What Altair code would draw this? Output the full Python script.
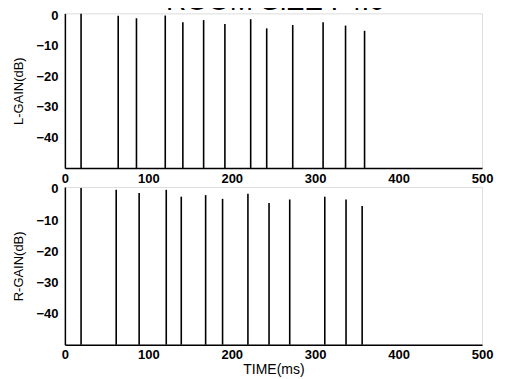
import altair as alt
import pandas as pd

TITLE = "ROOM SIZE : 4.0"

# Left channel reflections: time (ms) and gain (dB)
L_TIME = [19.4, 63.9, 85.8, 120.3, 141.4, 166.3, 191.8, 222.7, 241.9, 273.1, 309.5, 336.4, 359.2]
L_GAIN = [0.5, -0.2, -1.0, -0.1, -2.3, -1.6, -2.9, -1.3, -4.3, -3.2, -2.3, -3.4, -5.1]

# Right channel reflections
R_TIME = [19.4, 61.5, 89.0, 121.5, 139.5, 168.7, 189.0, 219.4, 244.7, 269.5, 311.5, 337.0, 356.3]
R_GAIN = [0.3, -0.3, -1.3, -0.3, -2.5, -2.0, -3.2, -1.6, -4.5, -3.4, -2.5, -3.4, -5.5]

X_TICKS = [0, 100, 200, 300, 400, 500]
Y_TICKS = [-40, -30, -20, -10, 0]

LABEL_FONT = "Liberation Sans Narrow, Liberation Sans, Arial, sans-serif"
W = 418


def panel(times, gains, ytitle, height, xtitle=None, with_title=False):
    df = pd.DataFrame({"time": times, "gain": gains})
    xaxis = dict(values=X_TICKS, grid=False, ticks=False, labelPadding=4,
                 labelFont=LABEL_FONT, labelFontSize=13, labelFontWeight="bold",
                 labelColor="black", domainColor="black", domainWidth=1.5,
                 labelFlush=False)
    if xtitle:
        xaxis.update(title=xtitle, titleFont=LABEL_FONT, titleFontSize=14,
                     titleFontWeight="normal", titleColor="black", titlePadding=1)
    else:
        xaxis.update(title=None)
    rules = alt.Chart(df).mark_rule(color="black", strokeWidth=1.6).encode(
        x=alt.X("time:Q", scale=alt.Scale(domain=[0, 500], nice=False),
                axis=alt.Axis(**xaxis)),
        y=alt.Y("gain:Q", scale=alt.Scale(domain=[-50, 0.6], nice=False, zero=False),
                axis=alt.Axis(values=Y_TICKS, grid=False, ticks=False, labelPadding=7,
                              labelFont=LABEL_FONT, labelFontSize=13,
                              labelFontWeight="bold", labelColor="black",
                              domainColor="black", domainWidth=1.5,
                              title=ytitle, titleFont=LABEL_FONT, titleFontSize=13,
                              titleFontWeight="normal", titleColor="black",
                              titleX=-46, titleBaseline="middle")),
        y2=alt.datum(-50),
    )
    layers = [rules]
    if with_title:
        tdf = pd.DataFrame({"t": [TITLE]})
        ttl = alt.Chart(tdf).mark_text(
            fontSize=28, font="Liberation Sans, Arial, sans-serif", color="black",
            baseline="alphabetic", align="center"
        ).encode(text="t:N", x=alt.value(211), y=alt.value(-3))
        layers.append(ttl)
    return alt.layer(*layers).properties(width=W, height=height)


top = panel(L_TIME, L_GAIN, "L-GAIN(dB)", 155, with_title=True)
bottom = panel(R_TIME, R_GAIN, "R-GAIN(dB)", 158, xtitle="TIME(ms)")

chart = alt.vconcat(top, bottom, spacing=19, bounds="flush").properties(
    padding={"top": -21, "left": 4, "right": 4, "bottom": 2}
).configure_view(stroke=None).configure(background="white")

chart.save("out.html", embed_options={"renderer": "svg", "actions": False})
